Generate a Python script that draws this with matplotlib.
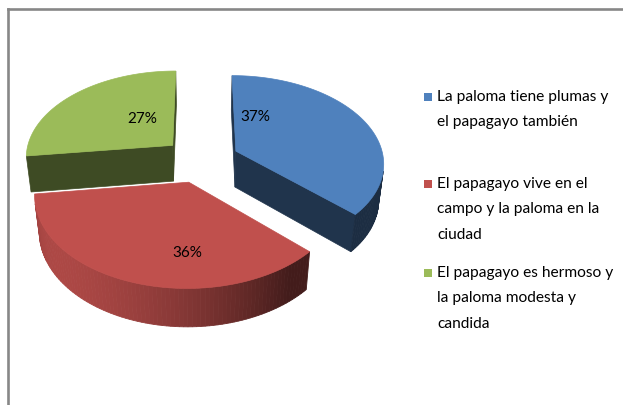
import numpy as np
import matplotlib.pyplot as plt
from matplotlib.patches import Polygon, Rectangle
from matplotlib.lines import Line2D

plt.rcParams['font.family'] = ['Lato', 'DejaVu Sans']

# data
labels = ['La paloma tiene plumas y\nel papagayo también',
          'El papagayo vive en el\ncampo y la paloma en la\nciudad',
          'El papagayo es hermoso y\nla paloma modesta y\ncandida']
values = [37, 36, 27]
colors = ['#4F81BD', '#C0504D', '#9BBB59']

# 3d look
W, H = 623, 405
explode = 0.26
thick = 0.31
elev = np.radians(36)
dist = 6.5
scale = 148.0
cx, cy = 201, 160
cam = dist * np.array([0.0, -np.cos(elev), np.sin(elev)])
light = np.array([-0.8, -0.6])

# where excel drops the % labels on each top face (angle deg, radius)
label_pos = [(20, 0.45), (180, 0.7), (325, 0.4)]


def project(X, Y, Z):
    v = Y * np.sin(elev) + Z * np.cos(elev)
    w = -Y * np.cos(elev) + Z * np.sin(elev)
    s = dist / (dist - w)
    return X * s, v * s


def visible(n, p):
    return np.dot(n, cam - p) > 0


def shade(col, f):
    rgb = np.array(plt.matplotlib.colors.to_rgb(col))
    return tuple(np.clip(rgb * f, 0, 1))


fig = plt.figure(figsize=(W / 100, H / 100), dpi=100)
ax = fig.add_axes([0, 0, 1, 1])
ax.set_xlim(-cx / scale, (W - cx) / scale)
ax.set_ylim(-(H - cy) / scale, cy / scale)
ax.axis('off')

frac = np.array(values) / sum(values)
starts = np.concatenate([[0], np.cumsum(frac)[:-1]]) * 2 * np.pi
ends = starts + frac * 2 * np.pi
mids = (starts + ends) / 2
offs = [(explode * np.sin(m), explode * np.cos(m)) for m in mids]

# far slices first
order = np.argsort([-o[1] for o in offs])
for i in order:
    a, b = starts[i], ends[i]
    ox, oy = offs[i]
    col = colors[i]
    t = np.linspace(a, b, 90)
    rx = ox + np.sin(t)
    ry = oy + np.cos(t)

    # radial faces
    for ang, n in [(a, np.array([-np.cos(a), np.sin(a), 0])),
                   (b, np.array([np.cos(b), -np.sin(b), 0]))]:
        ex, ey = ox + np.sin(ang), oy + np.cos(ang)
        p = np.array([(ox + ex) / 2, (oy + ey) / 2, -thick / 2])
        if visible(n, p):
            pts = [project(ox, oy, 0), project(ex, ey, 0),
                   project(ex, ey, -thick), project(ox, oy, -thick)]
            ax.add_patch(Polygon(pts, closed=True, fc=shade(col, 0.4),
                                 ec=shade(col, 0.4), lw=0.5))

    # outer side
    for k in range(len(t) - 1):
        tm = (t[k] + t[k + 1]) / 2
        n = np.array([np.sin(tm), np.cos(tm), 0])
        p = np.array([ox + n[0], oy + n[1], -thick / 2])
        if not visible(n, p):
            continue
        f = 0.35 + 0.55 * max(np.dot(n[:2], light), 0)
        pts = [project(rx[k], ry[k], 0), project(rx[k + 1], ry[k + 1], 0),
               project(rx[k + 1], ry[k + 1], -thick), project(rx[k], ry[k], -thick)]
        ax.add_patch(Polygon(pts, closed=True, fc=shade(col, f),
                             ec=shade(col, f), lw=0.6))

    # top
    top = [project(ox, oy, 0)] + [project(x, y, 0) for x, y in zip(rx, ry)]
    ax.add_patch(Polygon(top, closed=True, fc=col, ec=col, lw=0.5))

    ang, r = label_pos[i]
    ang = np.radians(ang)
    lx, ly = project(ox + r * np.sin(ang), oy + r * np.cos(ang), 0)
    ax.text(lx, ly, f'{values[i]}%', ha='center', va='center',
            fontsize=11, color='black')

# legend, drawn by hand so the square sits on the first line
leg_y = [97, 184, 273]
for col, lab, y in zip(colors, labels, leg_y):
    fig.patches.append(Rectangle((424 / W, 1 - (y + 4) / H), 8 / W, 8 / H,
                                 transform=fig.transFigure, fc=col, ec='none'))
    fig.text(437 / W, 1 - (y - 7) / H, lab, ha='left', va='top',
             fontsize=11.2, linespacing=2.04, color='black')

# chart frame (cropped screenshot: only top and left edges show)
fig.add_artist(Line2D([7.5 / W, 1], [1 - 9 / H, 1 - 9 / H],
                      transform=fig.transFigure, color='#878787', lw=1.9))
fig.add_artist(Line2D([7.5 / W, 7.5 / W], [0, 1 - 9 / H],
                      transform=fig.transFigure, color='#878787', lw=1.9))

fig.savefig('out.png', dpi=100)
